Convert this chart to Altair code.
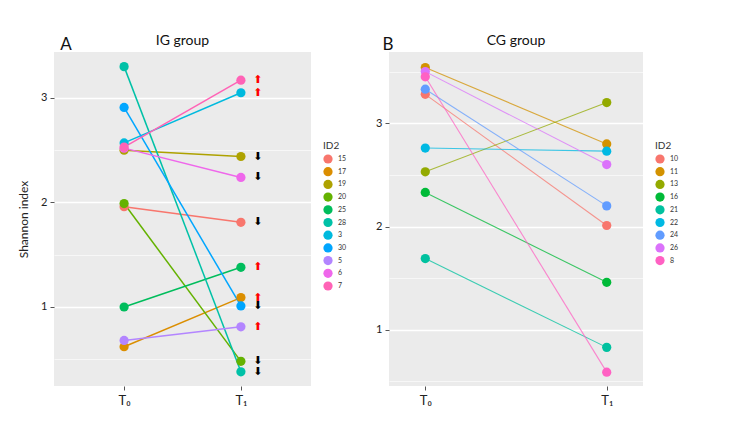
import altair as alt
import pandas as pd

# ---- data ----
times = ["T₀", "T₁"]

ig_ids = ["15", "17", "19", "20", "25", "28", "3", "30", "5", "6", "7"]
ig_t0 = [1.96, 0.62, 2.50, 1.99, 1.00, 3.30, 2.57, 2.91, 0.68, 2.52, 2.53]
ig_t1 = [1.81, 1.09, 2.44, 0.48, 1.38, 0.38, 3.05, 1.01, 0.81, 2.24, 3.17]
ig_colors = ["#F8766D", "#DB8E00", "#AEA200", "#64B200", "#00BD5C", "#00C1A7",
             "#00BADE", "#00A6FF", "#B385FF", "#EF67EB", "#FF63B6"]

cg_ids = ["10", "11", "13", "16", "21", "22", "24", "26", "8"]
cg_t0 = [3.28, 3.54, 2.53, 2.33, 1.69, 2.76, 3.33, 3.50, 3.45]
cg_t1 = [2.01, 2.80, 3.20, 1.46, 0.83, 2.73, 2.20, 2.60, 0.59]
cg_colors = ["#F8766D", "#D39200", "#93AA00", "#00BA38", "#00C19F", "#00B9E3",
             "#619CFF", "#DB72FB", "#FF61C3"]

FONT = "Lato"


def long_df(ids, t0, t1):
    rows = []
    for i, a, b in zip(ids, t0, t1):
        rows.append({"id": i, "time": times[0], "value": a})
        rows.append({"id": i, "time": times[1], "value": b})
    return pd.DataFrame(rows)


def arrow_df(ids, t0, t1):
    return pd.DataFrame({
        "id": ids,
        "time": [times[1]] * len(ids),
        "value": t1,
        "dir": ["up" if b > a else "down" for a, b in zip(t0, t1)],
    })


def panel(ids, t0, t1, colors, domain, xpad, width, title, letter, letter_x,
          show_ytitle, arrows, line_width, line_opacity):
    df = long_df(ids, t0, t1)
    xs = alt.X("time:N", scale=alt.Scale(type="point", domain=times, padding=xpad),
               axis=alt.Axis(title=None, labelAngle=0, labelFontSize=13, labelFont=FONT,
                             labelColor="#222", labelPadding=4, tickSize=4,
                             tickColor="#555", domain=False, gridColor="white",
                             gridWidth=1.3))
    ys = alt.Y("value:Q",
               scale=alt.Scale(domain=domain, zero=False, nice=False),
               axis=alt.Axis(
                   title="Shannon index" if show_ytitle else None,
                   titleFont=FONT, titleFontSize=12, titleFontWeight="normal",
                   titleColor="#222", titlePadding=10,
                   values=[0.5, 1, 1.5, 2, 2.5, 3, 3.5],
                   labelExpr="datum.value % 1 === 0 ? format(datum.value, 'd') : ''",
                   labelFontSize=11, labelFont=FONT, labelColor="#222",
                   labelPadding=3, domain=False, tickColor="#555", tickSize=4,
                   tickOpacity={"condition": {"test": "datum.value % 1 === 0", "value": 1}, "value": 0},
                   gridColor="white",
                   gridWidth={"condition": {"test": "datum.value % 1 === 0", "value": 1.3}, "value": 0.6},
               ))
    color_scale = alt.Scale(domain=ids, range=colors)
    legend = alt.Legend(orient="none", legendX=width + 12, legendY=89, title="ID2",
                        titleFont=FONT, titleFontSize=10, titleFontWeight="normal",
                        titleColor="#333", titlePadding=3, labelFont=FONT,
                        labelFontSize=7, labelColor="#333", symbolType="circle",
                        symbolSize=85, symbolStrokeWidth=0, symbolOpacity=1,
                        rowPadding=2.7, labelOffset=5)
    color = alt.Color("id:N", scale=color_scale, legend=legend)

    lines = alt.Chart(df).mark_line(strokeWidth=line_width, opacity=line_opacity).encode(
        x=xs, y=ys, detail="id:N", color=color)
    points = alt.Chart(df).mark_circle(size=85, opacity=1).encode(
        x=xs, y=ys, color=color)
    layers = [lines, points]
    if arrows:
        adf = arrow_df(ids, t0, t1)
        arr = alt.Chart(adf).mark_text(dx=17, fontSize=11,
                                       font="DejaVu Sans").encode(
            x=xs, y=ys,
            text=alt.Text("sym:N"),
            color=alt.condition("datum.dir == 'up'", alt.value("#FF0000"), alt.value("#000000")),
        ).transform_calculate(sym="datum.dir == 'up' ? '⬆' : '⬇'")
        layers.append(arr)
    lab = alt.Chart(pd.DataFrame({"lab": [letter]})).mark_text(
        font=FONT, fontSize=17, color="#111", align="center", baseline="middle").encode(
        x=alt.value(letter_x), y=alt.value(-7), text="lab:N")
    ttl = alt.Chart(pd.DataFrame({"lab": [title]})).mark_text(
        font=FONT, fontSize=14, color="#111", align="center", baseline="middle").encode(
        x=alt.value(width / 2), y=alt.value(-11), text="lab:N")
    layers += [lab, ttl]
    return alt.layer(*layers).properties(width=width, height=334)


a = panel(ig_ids, ig_t0, ig_t1, ig_colors, [0.244, 3.44], 0.6, 257, "IG group", "A",
          12, True, True, 1.5, 1.0)
b = panel(cg_ids, cg_t0, cg_t1, cg_colors, [0.456, 3.69], 0.2, 254, "CG group", "B",
          -1, False, False, 1.1, 0.75)

chart = alt.hconcat(a, b, spacing=78, bounds="flush").resolve_scale(
    color="independent", y="independent", x="independent"
).properties(
    padding={"left": 9, "top": 26, "right": 5, "bottom": 5}
).configure_view(fill="#EBEBEB", stroke=None)

chart.save("out.html", embed_options={"renderer": "svg", "actions": False})
